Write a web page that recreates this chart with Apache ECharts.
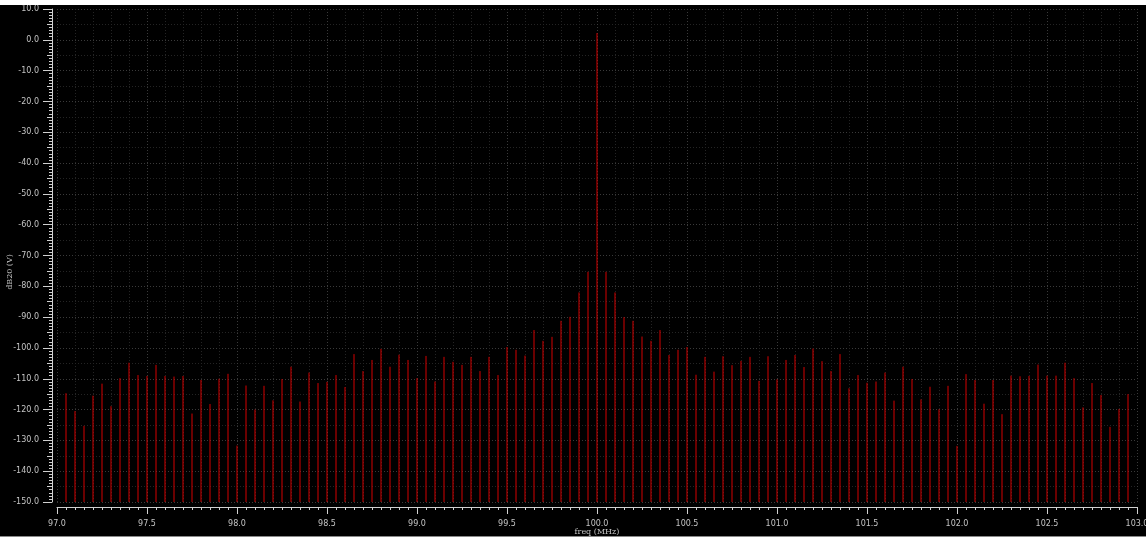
<!DOCTYPE html>
<html>
<head>
<meta charset="utf-8">
<script src="https://cdn.jsdelivr.net/npm/echarts@6/dist/echarts.min.js"></script>
<style>
  html, body { margin: 0; padding: 0; background: #ffffff; }
  #wrap { position: relative; width: 1146px; height: 540px; overflow: hidden; background: #ffffff; }
  #chart { position: absolute; left: 0; top: 5px; width: 1146px; height: 531px; background: #000000; }
  #edge { position: absolute; left: 0; top: 536px; width: 1146px; height: 1px; background: #8a8a8a; }
</style>
</head>
<body>
<div id="wrap">
  <div id="chart"></div>
  <div id="edge"></div>
</div>
<script>
// Spectrum lines: first bin, bin spacing (MHz) and level of each bin in dB20(V)
const freqStart = 97.05;
const freqStep = 0.05;
const levelsDb = [
  -114.7, -120.5, -125.3, -115.5, -111.6, -118.9, -109.8, -104.8, -108.8, -109.1,
  -105.5, -109.1, -109.3, -109.1, -121.3, -110.4, -118.2, -110.0, -108.4, -131.7,
  -112.2, -120.0, -112.3, -117.0, -110.1, -106.1, -117.4, -108.0, -111.4, -111.0,
  -108.8, -112.7, -102.0, -107.5, -103.9, -100.3, -106.1, -102.2, -103.9, -109.8,
  -102.6, -110.9, -102.9, -104.5, -105.5, -102.9, -107.5, -102.9, -108.8, -99.7,
  -100.6, -102.5, -94.2, -97.7, -96.4, -91.2, -89.9, -82.0, -75.3, 2.2,
  -75.3, -82.0, -90.0, -91.2, -96.3, -97.7, -94.2, -102.3, -100.6, -99.7,
  -108.7, -102.9, -107.7, -102.7, -105.6, -104.2, -102.9, -110.7, -102.7, -110.2,
  -103.9, -102.3, -106.2, -100.2, -104.3, -107.5, -102.0, -113.1, -108.8, -111.3,
  -110.9, -108.0, -117.1, -106.1, -110.1, -116.7, -112.6, -119.9, -112.3, -131.8,
  -108.5, -110.4, -118.1, -110.4, -121.5, -109.0, -109.2, -109.1, -105.4, -109.0,
  -109.0, -104.8, -109.8, -119.3, -111.4, -115.3, -125.6, -119.8, -115.0
];

// Axis ranges and titles
const xMin = 97.0, xMax = 103.0, xStep = 0.5;
const yMin = -150, yMax = 10, yStep = 10;
const xTitle = 'freq (MHz)';
const yTitle = 'dB20 (V)';

const freqs = levelsDb.map((_, i) => +(freqStart + i * freqStep).toFixed(2));
const points = freqs.map((f, i) => [f, levelsDb[i]]);

const textColor = '#c4c4c4';
const majorGrid = { color: '#3a3a3a', type: [1, 2], width: 1 };
const minorGrid = { color: '#242424', type: [1, 2], width: 1 };
const axisColor = '#d0d0d0';
const stemColor = '#d40000';

const chart = echarts.init(document.getElementById('chart'), null, { renderer: 'canvas' });

chart.setOption({
  backgroundColor: '#000000',
  animation: false,
  grid: {
    left: 57, top: 4, width: 1080, height: 493,
    containLabel: false, outerBoundsMode: 'none'
  },
  xAxis: [
    {
      type: 'value', min: xMin, max: xMax, interval: xStep,
      position: 'bottom', offset: 5,
      axisLine: { show: true, onZero: false, lineStyle: { color: axisColor, width: 1 } },
      axisTick: { show: true, inside: false, length: 7, lineStyle: { color: axisColor } },
      minorTick: { show: true, splitNumber: 10, length: 3, lineStyle: { color: axisColor } },
      axisLabel: {
        color: textColor, fontFamily: 'DejaVu Sans', fontSize: 8, margin: 13,
        formatter: v => v.toFixed(1)
      },
      splitLine: { show: true, lineStyle: majorGrid },
      minorSplitLine: { show: false }
    },
    {
      type: 'value', min: xMin, max: xMax, interval: xStep,
      position: 'bottom', offset: 5,
      axisLine: { show: false }, axisTick: { show: false }, axisLabel: { show: false },
      minorTick: { show: false, splitNumber: 5 },
      splitLine: { show: false },
      minorSplitLine: { show: true, lineStyle: minorGrid }
    }
  ],
  yAxis: [
    {
      type: 'value', min: yMin, max: yMax, interval: yStep,
      position: 'left', offset: 5,
      axisLine: { show: true, onZero: false, lineStyle: { color: axisColor, width: 1 } },
      axisTick: { show: true, inside: false, length: 9, lineStyle: { color: axisColor } },
      minorTick: { show: true, splitNumber: 10, length: 3, lineStyle: { color: axisColor } },
      axisLabel: {
        color: textColor, fontFamily: 'DejaVu Sans', fontSize: 8, margin: 13,
        formatter: v => v.toFixed(1)
      },
      splitLine: { show: true, lineStyle: majorGrid },
      minorSplitLine: { show: false }
    },
    {
      type: 'value', min: yMin, max: yMax, interval: yStep,
      position: 'left', offset: 5,
      axisLine: { show: false }, axisTick: { show: false }, axisLabel: { show: false },
      minorTick: { show: true, splitNumber: 2, length: 5, lineStyle: { color: axisColor } },
      splitLine: { show: false },
      minorSplitLine: { show: true, lineStyle: minorGrid }
    }
  ],
  graphic: [
    {
      type: 'text', x: 10, y: 267, rotation: Math.PI / 2,
      style: {
        text: yTitle, fill: textColor, font: '8px "DejaVu Serif"',
        textAlign: 'center', textVerticalAlign: 'middle'
      }
    },
    {
      type: 'text', x: 597, y: 527,
      style: {
        text: xTitle, fill: textColor, font: '8px "DejaVu Serif"',
        textAlign: 'center', textVerticalAlign: 'middle'
      }
    }
  ],
  series: [
    {
      type: 'custom',
      xAxisIndex: 0, yAxisIndex: 0,
      silent: true,
      clip: true,
      data: points,
      renderItem: function (params, api) {
        const f = api.value(0);
        const v = api.value(1);
        const base = api.coord([f, yMin]);
        const top = api.coord([f, v]);
        return {
          type: 'line',
          shape: { x1: base[0], y1: base[1], x2: base[0], y2: top[1] },
          style: { stroke: stemColor, lineWidth: 1 }
        };
      }
    }
  ]
});
</script>
</body>
</html>
